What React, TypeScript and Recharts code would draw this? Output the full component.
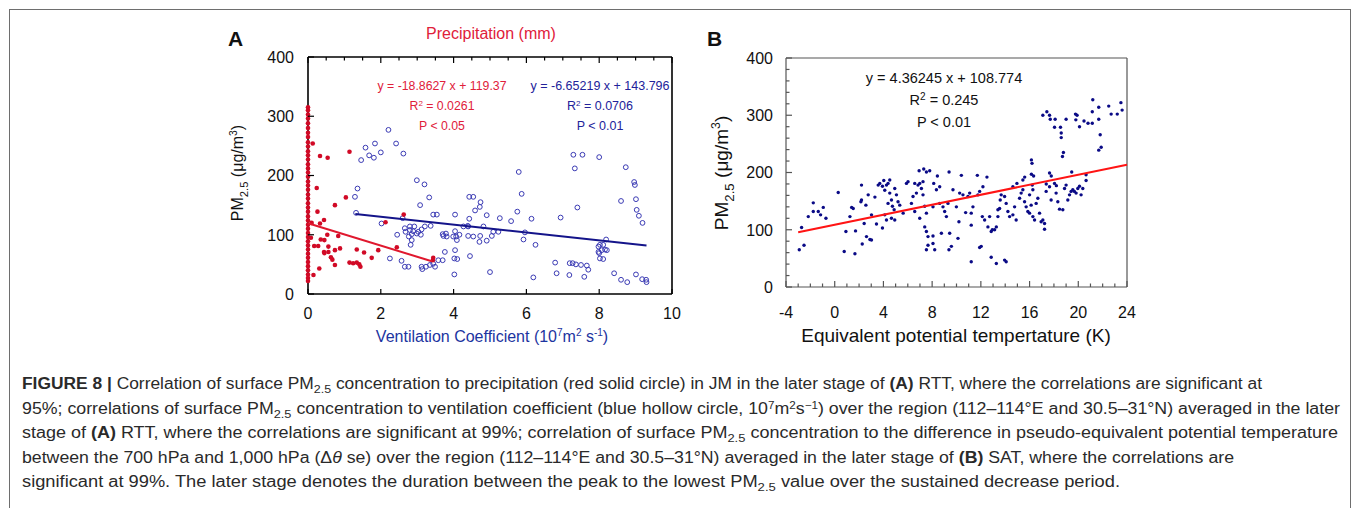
import React from 'react';
import { ScatterChart, Scatter, XAxis, YAxis } from 'recharts';

const FONT = '"Liberation Sans", Arial, Helvetica, sans-serif';

// ---------- panel A : PM2.5 vs precipitation (red) and ventilation coefficient (blue)
const precipZeroPm = [315, 310, 303, 296, 288, 280, 272, 265, 256, 249, 241, 234, 227, 219, 212, 205, 198, 190, 183, 176, 168, 161, 153, 146, 139, 131, 124, 117, 110, 103, 96, 89, 82, 75, 68, 61, 54, 47, 40, 33, 27, 22];
const precipPoints = [
  [0.13, 254], [0.33, 233], [0.54, 230], [1.14, 240], [0.24, 179], [0.33, 119], [0.44, 125], [0.26, 139],
  [0.74, 150], [1.04, 163], [0.83, 98], [0.53, 100], [0.35, 92], [0.45, 91], [0.28, 81], [0.56, 80],
  [0.17, 81], [0.44, 71], [0.56, 71], [0.74, 74], [0.88, 77], [0.45, 69], [0.63, 62], [0.67, 58],
  [0.74, 49], [0.31, 43], [0.15, 32], [1.14, 53], [1.24, 52], [1.34, 53], [1.41, 50], [1.44, 46],
  [1.34, 75], [1.54, 70], [1.75, 61], [1.93, 74], [2.13, 121], [2.44, 79], [2.63, 134], [3.44, 61],
  [3.43, 57], [0.1, 120], [0.08, 95],
];
const ventPoints = [
  [2.21, 277], [1.58, 247], [1.84, 254], [2.42, 254], [1.68, 234], [1.81, 230], [2.0, 239], [2.62, 237],
  [1.46, 226], [1.36, 178], [2.99, 192], [3.2, 185], [7.29, 235], [7.54, 235], [8.0, 231], [7.33, 212],
  [8.73, 214], [5.79, 206], [8.98, 184], [8.96, 189], [1.29, 164], [3.08, 150], [3.33, 163], [1.32, 137],
  [2.02, 119], [2.6, 128], [2.8, 114], [2.92, 114], [2.66, 111], [2.8, 108], [2.89, 106], [3.03, 105],
  [3.12, 109], [3.21, 114], [3.37, 115], [3.44, 134], [3.54, 134], [3.1, 100], [2.99, 102], [2.85, 101],
  [2.77, 97], [2.68, 105], [2.85, 91], [2.82, 83], [2.45, 100], [2.25, 60], [2.57, 56], [2.66, 46],
  [2.76, 46], [3.12, 46], [3.14, 42], [3.24, 46], [3.35, 49], [3.44, 51], [3.49, 46], [3.58, 57],
  [3.72, 98], [3.79, 102], [3.99, 97], [4.04, 106], [4.09, 91], [4.04, 74], [4.1, 59], [4.02, 33],
  [4.04, 134], [4.4, 114], [5.87, 169], [4.43, 164], [4.54, 164], [4.74, 155], [4.72, 147], [4.59, 141],
  [4.91, 133], [4.43, 127], [5.27, 128], [5.58, 123], [5.75, 139], [6.14, 127], [6.94, 129], [7.4, 146],
  [8.6, 157], [9.01, 160], [9.03, 142], [9.09, 132], [9.19, 120], [4.27, 114], [4.39, 115], [4.82, 114],
  [5.09, 105], [5.23, 105], [5.05, 98], [4.91, 90], [4.71, 88], [4.73, 98], [4.54, 97], [4.4, 98],
  [4.16, 100], [4.07, 97], [3.81, 97], [3.7, 101], [3.76, 71], [3.7, 57], [4.02, 60], [4.45, 64],
  [5.0, 37], [5.92, 92], [5.96, 104], [6.25, 83], [6.19, 28], [6.79, 53], [6.83, 35], [7.19, 52],
  [7.27, 52], [7.36, 50], [7.5, 49], [7.66, 48], [7.7, 41], [7.18, 32], [7.59, 29], [7.98, 80],
  [8.02, 83], [8.11, 83], [8.16, 75], [8.21, 74], [7.98, 71], [8.02, 60], [8.11, 59], [8.19, 92],
  [8.07, 74], [8.0, 69], [8.41, 35], [8.6, 24], [8.77, 20], [9.01, 33], [9.18, 25], [9.29, 24], [9.3, 20],
];
const precipFit = [{ x: 0, y: 119.4 }, { x: 3.4, y: 55.3 }];
const ventFit = [{ x: 1.3, y: 135.2 }, { x: 9.3, y: 81.9 }];
const pmTicksA = [0, 100, 200, 300, 400];
const ventTicks = [0, 2, 4, 6, 8, 10];
const precipTicks = Array.from({ length: 21 }, (_, i) => i * 0.5);

// ---------- panel B : PM2.5 vs equivalent potential temperature difference
const thetaPoints = [
  [21.19, 327], [21.68, 314], [22.5, 316], [23.5, 322], [23.6, 309], [23.2, 302], [22.7, 302], [21.15, 306],
  [21.68, 293], [21.15, 286], [20.8, 286], [20.47, 290], [20.1, 280], [19.8, 292], [19.9, 300], [19.77, 302],
  [19.0, 293], [18.54, 279], [18.6, 269], [18.6, 261], [18.05, 279], [17.64, 300], [17.42, 306], [17.09, 300],
  [17.7, 293], [18.1, 293], [21.8, 266], [21.88, 244], [21.68, 239], [18.78, 235], [18.7, 228], [16.15, 222],
  [16.2, 216], [15.6, 192], [15.45, 187], [16.15, 197], [16.33, 194], [17.64, 199], [17.78, 194], [19.46, 201],
  [20.64, 196], [20.64, 186], [17.37, 180], [18.05, 181], [18.2, 177], [20.1, 176], [16.22, 178], [14.96, 181],
  [14.63, 175], [12.5, 192], [12.17, 175], [11.71, 195], [10.4, 195], [9.39, 201], [8.43, 194], [7.31, 206],
  [6.93, 203], [6.57, 181], [8.13, 181], [8.62, 175],
  [-2.91, 65], [-2.52, 73], [-2.72, 104], [-2.17, 123], [-1.76, 147], [-1.76, 132], [-1.35, 132], [-0.94, 139],
  [-1.16, 126], [-0.72, 120], [0.29, 165], [0.78, 62], [0.92, 97], [1.66, 58], [1.71, 98], [1.25, 123],
  [1.39, 139], [1.52, 137], [2.2, 178], [2.15, 149], [2.2, 152], [2.26, 75], [2.42, 111], [2.56, 143],
  [2.61, 88], [2.89, 83], [3.02, 82], [2.75, 161], [3.02, 126], [3.3, 157], [3.43, 110], [3.57, 178],
  [3.7, 181], [3.92, 176], [4.03, 186], [4.25, 178], [4.38, 181], [4.52, 187], [4.11, 169], [4.52, 164],
  [4.66, 152], [4.38, 146], [4.74, 141], [4.88, 135], [4.11, 126], [4.66, 120], [4.93, 117], [4.25, 117],
  [3.92, 103], [4.93, 172], [5.07, 161], [5.2, 149], [5.34, 143], [5.62, 129], [5.89, 181], [6.02, 184],
  [6.43, 158], [6.71, 164], [6.84, 178], [6.98, 181], [7.12, 172], [7.25, 161], [7.39, 141], [7.53, 129],
  [6.98, 120], [7.53, 97], [7.66, 73], [7.53, 65], [7.25, 184], [7.53, 201], [7.8, 203],
  [6.3, 146], [6.57, 132], [7.39, 105], [7.66, 88], [8.07, 89], [8.07, 76], [8.21, 65], [8.07, 140],
  [8.35, 170], [8.62, 146], [8.76, 94], [8.89, 140], [9.03, 132], [9.17, 123], [9.3, 146], [9.44, 94],
  [9.38, 65], [9.58, 71], [9.71, 170], [9.99, 140], [10.2, 114], [10.12, 85], [10.26, 164], [10.53, 161],
  [10.75, 130], [10.94, 158], [11.08, 164], [11.21, 108], [11.21, 129], [11.35, 140], [11.76, 161], [11.9, 167],
  [12.03, 71], [12.12, 123], [12.31, 117], [12.58, 105], [12.72, 123], [12.85, 97], [12.94, 100], [13.13, 100],
  [13.27, 105], [13.4, 123], [13.4, 135], [13.54, 137], [13.59, 152], [13.67, 161], [13.95, 158], [14.08, 146],
  [14.22, 132], [14.36, 123], [14.63, 126], [14.77, 140], [14.9, 117], [15.18, 155], [15.31, 164], [15.45, 170],
  [15.59, 149], [15.72, 140], [15.86, 132], [16.0, 129], [16.0, 161], [16.13, 143], [16.27, 170], [16.27, 123],
  [16.41, 117], [16.54, 146], [16.68, 155], [16.82, 129], [16.95, 114], [17.09, 117], [17.23, 111], [17.23, 101],
  [17.36, 167], [17.64, 175], [17.77, 152], [18.18, 164], [18.32, 149], [18.46, 136], [18.73, 135], [18.87, 172],
  [19.0, 178], [19.14, 152], [19.28, 161], [19.41, 167], [19.55, 170], [19.68, 167], [19.82, 164], [19.96, 172],
  [20.23, 161], [20.37, 172], [13.95, 47], [14.08, 44], [13.27, 41], [12.85, 52], [11.9, 69], [11.21, 44],
];
const thetaFit = [{ x: -3, y: 95.7 }, { x: 24, y: 213.5 }];
const thetaTicks = Array.from({ length: 29 }, (_, i) => i - 4);
const pmTicksB = Array.from({ length: 21 }, (_, i) => i * 20);

const toXY = (arr: number[][]) => arr.map(([x, y]) => ({ x, y }));
const precipData = [...precipZeroPm.map((y) => ({ x: 0, y })), ...toXY(precipPoints)];
const ventData = toXY(ventPoints);
const thetaData = toXY(thetaPoints);

type TickOpts = {
  side: 'left' | 'right' | 'top' | 'bottom';
  isMajor: (v: number) => boolean;
  majorLen: number;
  minorLen: number;
  stroke: string;
  label?: boolean;
  fontSize?: number;
  gap?: number;
};

// ticks drawn inward, labels outside (tickSize/tickMargin are 0 so x,y sit on the axis line)
const makeTick = (o: TickOpts) => (props: any) => {
  const { x, y, payload } = props;
  const major = o.isMajor(payload.value);
  const len = major ? o.majorLen : o.minorLen;
  let x2 = x;
  let y2 = y;
  if (o.side === 'left') x2 = x + len;
  if (o.side === 'right') x2 = x - len;
  if (o.side === 'top') y2 = y + len;
  if (o.side === 'bottom') y2 = y - len;
  let text = null;
  if (o.label && major) {
    if (o.side === 'left') {
      text = (
        <text x={x - (o.gap || 10)} y={y + (o.fontSize || 16) * 0.36} textAnchor="end" fontSize={o.fontSize} fill="#111" fontFamily={FONT}>
          {payload.value}
        </text>
      );
    } else if (o.side === 'bottom') {
      text = (
        <text x={x} y={y + (o.gap || 20)} textAnchor="middle" fontSize={o.fontSize} fill="#111" fontFamily={FONT}>
          {payload.value}
        </text>
      );
    }
  }
  return (
    <g>
      {len > 0 && <line x1={x} y1={y} x2={x2} y2={y2} stroke={o.stroke} strokeWidth={1.2} />}
      {text}
    </g>
  );
};

const redDot = (p: any) => <circle cx={p.cx} cy={p.cy} r={2.3} fill="#d10a26" />;
const blueRing = (p: any) => <circle cx={p.cx} cy={p.cy} r={2.4} fill="none" stroke="#3a3ab4" strokeWidth={1} />;
const navyDot = (p: any) => <circle cx={p.cx} cy={p.cy} r={1.7} fill="#0a0a86" />;
const noMark = () => <g />;

const axA = { stroke: '#000', strokeWidth: 1.6 };
const axB = { stroke: '#555', strokeWidth: 1.2 };

// axes get a 1px box (0 would hide them), so margins are 1px less than the plot offsets
const PanelA = () => (
  <ScatterChart width={470} height={340} margin={{ left: 77, top: 36, right: 27, bottom: 65 }}>
    <XAxis
      xAxisId="vent" type="number" dataKey="x" orientation="bottom" domain={[0, 10]} ticks={ventTicks}
      height={1} tickSize={0} tickMargin={0} tickLine={false} axisLine={axA} interval={0}
      tick={makeTick({ side: 'bottom', isMajor: () => true, majorLen: 5, minorLen: 0, stroke: '#000', label: true, fontSize: 16, gap: 25 })}
    />
    <XAxis
      xAxisId="prec" type="number" dataKey="x" orientation="top" domain={[0, 10]} ticks={precipTicks}
      height={1} tickSize={0} tickMargin={0} tickLine={false} axisLine={axA} interval={0}
      tick={makeTick({ side: 'top', isMajor: (v) => v % 2 === 0, majorLen: 6, minorLen: 3.5, stroke: '#000' })}
    />
    <YAxis
      yAxisId="pm" type="number" dataKey="y" domain={[0, 400]} ticks={pmTicksA}
      width={1} tickSize={0} tickMargin={0} tickLine={false} axisLine={axA} interval={0}
      tick={makeTick({ side: 'left', isMajor: () => true, majorLen: 6, minorLen: 0, stroke: '#000', label: true, fontSize: 16, gap: 14 })}
    />
    <YAxis
      yAxisId="pmR" type="number" orientation="right" domain={[0, 400]} ticks={pmTicksA}
      width={1} tickSize={0} tickMargin={0} tickLine={false} axisLine={axA} interval={0}
      tick={makeTick({ side: 'right', isMajor: () => true, majorLen: 6, minorLen: 0, stroke: '#000' })}
    />
    <Scatter data={ventData} xAxisId="vent" yAxisId="pm" shape={blueRing} isAnimationActive={false} />
    <Scatter data={precipData} xAxisId="prec" yAxisId="pm" shape={redDot} isAnimationActive={false} />
    <Scatter data={precipFit} xAxisId="prec" yAxisId="pm" shape={noMark} line={{ stroke: '#e0182e', strokeWidth: 2 }} isAnimationActive={false} />
    <Scatter data={ventFit} xAxisId="vent" yAxisId="pm" shape={noMark} line={{ stroke: '#14148a', strokeWidth: 2 }} isAnimationActive={false} />
  </ScatterChart>
);

const PanelB = () => (
  <ScatterChart width={460} height={340} margin={{ left: 85, top: 37, right: 32, bottom: 72 }}>
    <XAxis
      xAxisId="t" type="number" dataKey="x" orientation="bottom" domain={[-4, 24]} ticks={thetaTicks}
      height={1} tickSize={0} tickMargin={0} tickLine={false} axisLine={axB} interval={0}
      tick={makeTick({ side: 'bottom', isMajor: (v) => v % 4 === 0, majorLen: 6, minorLen: 3.5, stroke: '#555', label: true, fontSize: 16, gap: 31 })}
    />
    <XAxis xAxisId="top" type="number" orientation="top" domain={[-4, 24]} height={1} tick={false} tickLine={false} axisLine={axB} />
    <YAxis
      yAxisId="pm" type="number" dataKey="y" domain={[0, 400]} ticks={pmTicksB}
      width={1} tickSize={0} tickMargin={0} tickLine={false} axisLine={axB} interval={0}
      tick={makeTick({ side: 'left', isMajor: (v) => v % 100 === 0, majorLen: 6, minorLen: 3.5, stroke: '#555', label: true, fontSize: 16, gap: 13 })}
    />
    <YAxis yAxisId="right" type="number" orientation="right" domain={[0, 400]} width={1} tick={false} tickLine={false} axisLine={axB} />
    <Scatter data={thetaData} xAxisId="t" yAxisId="pm" shape={navyDot} isAnimationActive={false} />
    <Scatter data={thetaFit} xAxisId="t" yAxisId="pm" shape={noMark} line={{ stroke: '#ff1414', strokeWidth: 2 }} isAnimationActive={false} />
  </ScatterChart>
);

const sub = (t: string, fs: number, d: number) => <tspan dy={d} fontSize={fs}>{t}</tspan>;

const PmLabel = ({ cx, cy, fs }: { cx: number; cy: number; fs: number }) => (
  <text x={cx} y={cy} transform={`rotate(-90 ${cx} ${cy})`} textAnchor="middle" fontSize={fs} fill="#111" fontFamily={FONT}>
    <tspan>PM</tspan>
    {sub('2.5', fs * 0.7, fs * 0.3)}
    <tspan dy={-fs * 0.3}> (μg/m</tspan>
    {sub('3', fs * 0.65, -fs * 0.4)}
    <tspan dy={fs * 0.4}>)</tspan>
  </text>
);

const Overlay = () => (
  <svg width={1355} height={508} style={{ position: 'absolute', left: 0, top: 0, pointerEvents: 'none' }} fontFamily={FONT}>
    <text x={228} y={46} fontSize={21} fontWeight="bold" fill="#111">A</text>
    <text x={707} y={46} fontSize={21} fontWeight="bold" fill="#111">B</text>

    <text x={491} y={39} textAnchor="middle" fontSize={16} fill="#e0203a">Precipitation (mm)</text>

    <g fontSize={12.3} fill="#e0203a" textAnchor="middle">
      <text x={442} y={90}>y = -18.8627 x + 119.37</text>
      <text x={442} y={110}>R<tspan dy={-4} fontSize={8}>2</tspan><tspan dy={4}> = 0.0261</tspan></text>
      <text x={442} y={129.5}>P &lt; 0.05</text>
    </g>
    <g fontSize={12.5} fill="#22229a" textAnchor="middle">
      <text x={600} y={90}>y = -6.65219 x + 143.796</text>
      <text x={600} y={110}>R<tspan dy={-4} fontSize={8}>2</tspan><tspan dy={4}> = 0.0706</tspan></text>
      <text x={600} y={129.5}>P &lt; 0.01</text>
    </g>

    <PmLabel cx={243} cy={173} fs={16} />
    <text x={492} y={341.5} textAnchor="middle" fontSize={16} fill="#1c34a0">
      Ventilation Coefficient (10<tspan dy={-6} fontSize={10}>7</tspan><tspan dy={6}>m</tspan>
      <tspan dy={-6} fontSize={10}>2</tspan><tspan dy={6}> s</tspan><tspan dy={-6} fontSize={10}>-1</tspan><tspan dy={6}>)</tspan>
    </text>

    <g fontSize={14.5} fill="#111" textAnchor="middle">
      <text x={944} y={83}>y = 4.36245 x + 108.774</text>
      <text x={944} y={105}>R<tspan dy={-5} fontSize={10}>2</tspan><tspan dy={5}> = 0.245</tspan></text>
      <text x={944} y={127}>P &lt; 0.01</text>
    </g>
    <PmLabel cx={728} cy={173} fs={19} />
    <text x={956} y={342} textAnchor="middle" fontSize={19} fill="#111">Equivalent potential tempertature (K)</text>

    <g fontSize={16} fill="#2a2a2a">
      <text x={22} y={389} textLength={1240} lengthAdjust="spacingAndGlyphs">
        <tspan fontWeight="bold">FIGURE 8 | </tspan>Correlation of surface PM{sub('2.5', 11.5, 4)}
        <tspan dy={-4}> concentration to precipitation (red solid circle) in JM in the later stage of </tspan>
        <tspan fontWeight="bold">(A)</tspan> RTT, where the correlations are significant at
      </text>
      <text x={22} y={414} textLength={1318} lengthAdjust="spacingAndGlyphs">
        95%; correlations of surface PM{sub('2.5', 11.5, 4)}
        <tspan dy={-4}> concentration to ventilation coefficient (blue hollow circle, 10</tspan>
        <tspan dy={-5} fontSize={10.5}>7</tspan><tspan dy={5}>m</tspan><tspan dy={-5} fontSize={10.5}>2</tspan>
        <tspan dy={5}>s</tspan><tspan dy={-5} fontSize={10.5}>−1</tspan>
        <tspan dy={5}>) over the region (112–114°E and 30.5–31°N) averaged in the later</tspan>
      </text>
      <text x={22} y={438} textLength={1316} lengthAdjust="spacingAndGlyphs">
        stage of <tspan fontWeight="bold">(A)</tspan> RTT, where the correlations are significant at 99%; correlation of surface PM{sub('2.5', 11.5, 4)}
        <tspan dy={-4}> concentration to the difference in pseudo-equivalent potential temperature</tspan>
      </text>
      <text x={22} y={463} textLength={1212} lengthAdjust="spacingAndGlyphs">
        between the 700 hPa and 1,000 hPa (Δ<tspan fontStyle="italic">θ</tspan> se) over the region (112–114°E and 30.5–31°N) averaged in the later stage of{' '}
        <tspan fontWeight="bold">(B)</tspan> SAT, where the correlations are
      </text>
      <text x={22} y={487} textLength={1098} lengthAdjust="spacingAndGlyphs">
        significant at 99%. The later stage denotes the duration between the peak to the lowest PM{sub('2.5', 11.5, 4)}
        <tspan dy={-4}> value over the sustained decrease period.</tspan>
      </text>
    </g>
  </svg>
);

export default function App() {
  return (
    <div style={{ position: 'absolute', left: 0, top: 0, width: 1355, height: 508, overflow: 'hidden', background: '#fff', fontFamily: FONT }}>
      <div style={{ position: 'absolute', left: 9, top: 9, width: 1340, height: 540, border: '1.5px solid #6e6e6e' }} />
      <div style={{ position: 'absolute', left: 230, top: 20 }}>
        <PanelA />
      </div>
      <div style={{ position: 'absolute', left: 700, top: 20 }}>
        <PanelB />
      </div>
      <Overlay />
    </div>
  );
}
